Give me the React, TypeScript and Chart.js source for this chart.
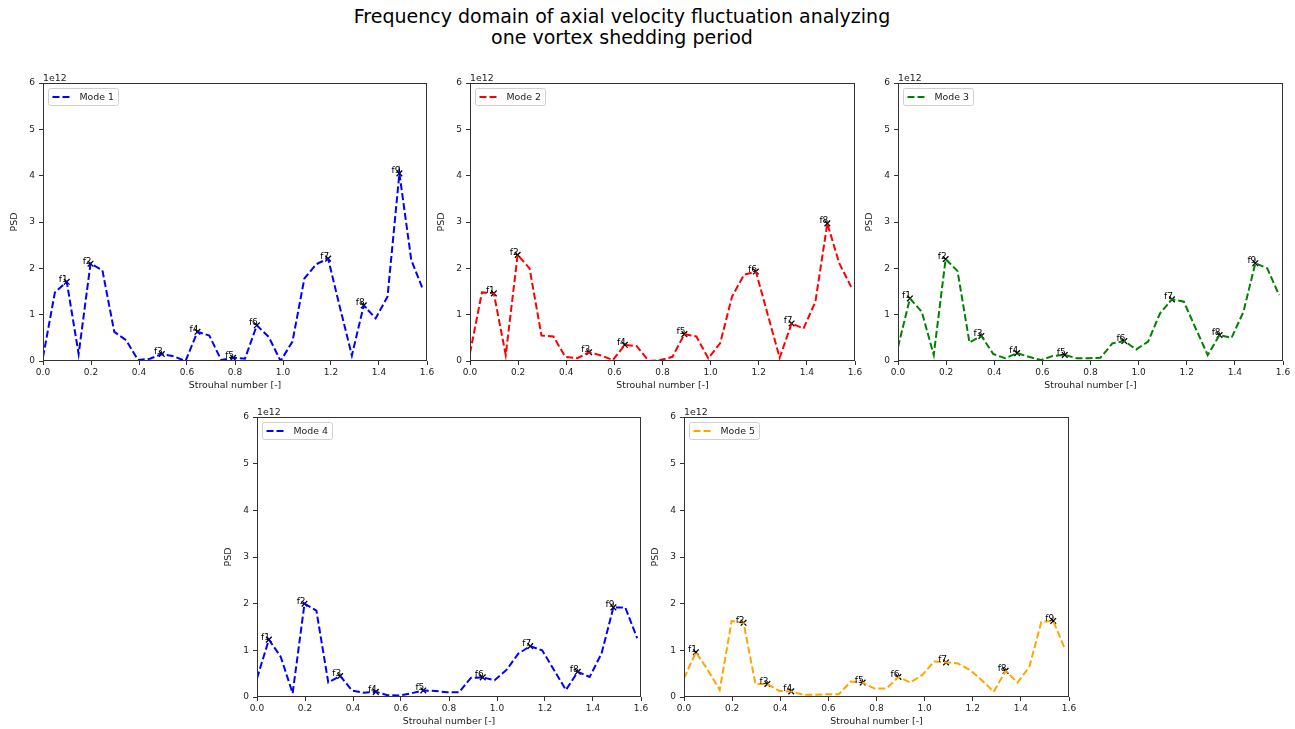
import React, { useEffect, useRef } from "react";
import { Chart, registerables } from "chart.js";

Chart.register(...registerables);

// ---------------- data ----------------
const TITLE_LINES = [
  "Frequency domain of axial velocity fluctuation analyzing",
  "one vortex shedding period",
];

const STROUHAL = [
  0, 0.0495, 0.099, 0.1485, 0.198, 0.2475, 0.297, 0.3465, 0.396, 0.4455, 0.495,
  0.5445, 0.594, 0.6435, 0.693, 0.7425, 0.792, 0.8415, 0.891, 0.9405, 0.99,
  1.0395, 1.089, 1.1385, 1.188, 1.2375, 1.287, 1.3365, 1.386, 1.4355, 1.485,
  1.5345, 1.584,
];

// PSD values in units of 1e12
const MODE_1 = [
  0.08, 1.48, 1.71, 0.15, 2.1, 1.96, 0.63, 0.45, 0.02, 0.05, 0.15, 0.1, 0.0,
  0.63, 0.55, 0.02, 0.07, 0.05, 0.77, 0.52, 0.0, 0.42, 1.78, 2.09, 2.21, 1.15,
  0.12, 1.2, 0.92, 1.39, 4.05, 2.18, 1.53,
];
const MODE_2 = [
  0.17, 1.48, 1.46, 0.13, 2.29, 2.0, 0.55, 0.53, 0.09, 0.06, 0.19, 0.12, 0.02,
  0.35, 0.32, 0.0, 0.02, 0.09, 0.58, 0.53, 0.06, 0.38, 1.39, 1.86, 1.93, 1.0,
  0.07, 0.81, 0.7, 1.28, 2.97, 2.11, 1.6,
];
const MODE_3 = [
  0.3, 1.35, 1.06, 0.13, 2.2, 1.94, 0.4, 0.54, 0.15, 0.06, 0.17, 0.09, 0.02,
  0.11, 0.13, 0.06, 0.06, 0.07, 0.38, 0.43, 0.25, 0.42, 1.03, 1.33, 1.28, 0.7,
  0.13, 0.56, 0.5, 1.06, 2.11, 2.0, 1.42,
];
const MODE_4 = [
  0.4, 1.23, 0.86, 0.08, 2.0, 1.85, 0.31, 0.45, 0.14, 0.09, 0.11, 0.04, 0.03,
  0.08, 0.14, 0.13, 0.1, 0.1, 0.41, 0.42, 0.36, 0.58, 0.93, 1.09, 1.0, 0.58,
  0.15, 0.54, 0.43, 0.93, 1.92, 1.92, 1.26,
];
const MODE_5 = [
  0.4, 0.96, 0.58, 0.15, 1.63, 1.59, 0.28, 0.28, 0.13, 0.12, 0.05, 0.05, 0.06,
  0.06, 0.33, 0.31, 0.18, 0.18, 0.43, 0.31, 0.47, 0.76, 0.74, 0.72, 0.58, 0.36,
  0.11, 0.56, 0.31, 0.65, 1.61, 1.63, 1.02,
];

// indices (into STROUHAL) of the annotated peaks f1, f2, ...
const PEAKS_1 = [2, 4, 10, 13, 16, 18, 24, 27, 30];
const PEAKS_2 = [2, 4, 10, 13, 18, 24, 27, 30];
const PEAKS_3 = [1, 4, 7, 10, 14, 19, 23, 27, 30];
const PEAKS_4 = [1, 4, 7, 10, 14, 19, 23, 27, 30];
const PEAKS_5 = [1, 5, 7, 9, 15, 18, 22, 27, 31];

const SERIES_NAMES = ["Mode 1", "Mode 2", "Mode 3", "Mode 4", "Mode 5"];
const X_LABEL = "Strouhal number [-]";
const Y_LABEL = "PSD";
const Y_OFFSET_TEXT = "1e12";
const X_MIN = 0;
const X_MAX = 1.6;
const X_STEP = 0.2;
const Y_MIN = 0;
const Y_MAX = 6;
const Y_STEP = 1;

// ---------------- layout / style ----------------
const FONT = '"DejaVu Sans", "Liberation Sans", sans-serif';
const Y_AXIS_W = 40;
const X_AXIS_H = 32;
const PAD_TOP = 25;
const PAD_RIGHT = 12;

const PANELS = [
  { values: MODE_1, peaks: PEAKS_1, name: SERIES_NAMES[0], color: "#0000ff", left: 43, top: 83, w: 384, h: 278 },
  { values: MODE_2, peaks: PEAKS_2, name: SERIES_NAMES[1], color: "#ff0000", left: 470, top: 83, w: 385, h: 278 },
  { values: MODE_3, peaks: PEAKS_3, name: SERIES_NAMES[2], color: "#008000", left: 898, top: 83, w: 385, h: 278 },
  { values: MODE_4, peaks: PEAKS_4, name: SERIES_NAMES[3], color: "#0000ff", left: 257, top: 417, w: 384, h: 280 },
  { values: MODE_5, peaks: PEAKS_5, name: SERIES_NAMES[4], color: "#ffa500", left: 684, top: 417, w: 385, h: 280 },
];

const decorPlugin = {
  id: "decor",
  afterDatasetsDraw(chart: any) {
    const { ctx, chartArea: a } = chart;
    const opts = chart.options.plugins.decor;
    ctx.save();
    // frame (all four spines)
    ctx.strokeStyle = "#333";
    ctx.lineWidth = 1;
    ctx.strokeRect(
      Math.round(a.left) + 0.5,
      Math.round(a.top) + 0.5,
      Math.round(a.right - a.left) - 1,
      Math.round(a.bottom - a.top) - 1
    );
    // peak annotations
    const meta = chart.getDatasetMeta(1);
    ctx.fillStyle = "#000";
    ctx.font = `9px ${FONT}`;
    ctx.textAlign = "right";
    ctx.textBaseline = "alphabetic";
    meta.data.forEach((pt: any, k: number) => {
      ctx.fillText("f" + (k + 1), pt.x + 1, pt.y);
    });
    // offset text
    ctx.textAlign = "left";
    ctx.font = `9.4px ${FONT}`;
    ctx.fillStyle = "#222";
    ctx.fillText(Y_OFFSET_TEXT, a.left, a.top - 2);
    // legend box
    const bx = Math.round(a.left) + 5.5;
    const by = Math.round(a.top) + 5.5;
    ctx.font = `9.4px ${FONT}`;
    const tw = ctx.measureText(opts.name).width;
    const bw = Math.round(4 + 18 + 9 + tw + 5);
    const bh = 17;
    ctx.beginPath();
    const r = 2;
    ctx.moveTo(bx + r, by);
    ctx.lineTo(bx + bw - r, by);
    ctx.quadraticCurveTo(bx + bw, by, bx + bw, by + r);
    ctx.lineTo(bx + bw, by + bh - r);
    ctx.quadraticCurveTo(bx + bw, by + bh, bx + bw - r, by + bh);
    ctx.lineTo(bx + r, by + bh);
    ctx.quadraticCurveTo(bx, by + bh, bx, by + bh - r);
    ctx.lineTo(bx, by + r);
    ctx.quadraticCurveTo(bx, by, bx + r, by);
    ctx.closePath();
    ctx.fillStyle = "rgba(255,255,255,0.8)";
    ctx.fill();
    ctx.strokeStyle = "#d0d0d0";
    ctx.lineWidth = 1;
    ctx.stroke();
    ctx.beginPath();
    ctx.setLineDash([7, 3]);
    ctx.strokeStyle = opts.color;
    ctx.lineWidth = 2;
    ctx.moveTo(bx + 4, by + bh / 2);
    ctx.lineTo(bx + 22, by + bh / 2);
    ctx.stroke();
    ctx.setLineDash([]);
    ctx.fillStyle = "#222";
    ctx.textBaseline = "middle";
    ctx.fillText(opts.name, bx + 31, by + bh / 2 + 0.5);
    ctx.restore();
  },
};

function Panel({ p }: { p: (typeof PANELS)[number] }) {
  const ref = useRef<HTMLCanvasElement | null>(null);
  const cw = p.w + Y_AXIS_W + PAD_RIGHT;
  const ch = p.h + PAD_TOP + X_AXIS_H;
  useEffect(() => {
    if (!ref.current) return;
    const lineData = STROUHAL.map((x, i) => ({ x, y: p.values[i] }));
    const peakData = p.peaks.map((i) => ({ x: STROUHAL[i], y: p.values[i] }));
    const tickFont = { family: FONT, size: 9 };
    const chart = new Chart(ref.current, {
      type: "line",
      data: {
        datasets: [
          {
            data: lineData,
            borderColor: p.color,
            borderWidth: 2,
            borderDash: [7, 3],
            pointRadius: 0,
            tension: 0,
            fill: false,
          },
          {
            data: peakData,
            showLine: false,
            pointStyle: "crossRot",
            pointRadius: 4,
            pointBorderColor: "#000",
            pointBackgroundColor: "#000",
            pointBorderWidth: 1.3,
          },
        ],
      },
      options: {
        animation: false,
        responsive: false,
        devicePixelRatio: 1,
        layout: { padding: { top: PAD_TOP, right: PAD_RIGHT, left: 0, bottom: 0 } },
        plugins: {
          legend: { display: false },
          tooltip: { enabled: false },
          decor: { name: p.name, color: p.color },
        } as any,
        scales: {
          x: {
            type: "linear",
            min: X_MIN,
            max: X_MAX,
            afterFit: (s: any) => {
              s.height = X_AXIS_H;
            },
            border: { display: false },
            grid: { display: true, drawOnChartArea: false, drawTicks: true, tickLength: 4, color: "#333" },
            ticks: {
              stepSize: X_STEP,
              autoSkip: false,
              maxRotation: 0,
              padding: 2,
              color: "#222",
              font: tickFont,
              callback: (v: any) => Number(v).toFixed(1),
            },
            title: {
              display: true,
              text: X_LABEL,
              color: "#222",
              font: { family: FONT, size: 9.4 },
              padding: { top: 0, bottom: 2 },
            },
          },
          y: {
            type: "linear",
            min: Y_MIN,
            max: Y_MAX,
            afterFit: (s: any) => {
              s.width = Y_AXIS_W;
            },
            border: { display: false },
            grid: { display: true, drawOnChartArea: false, drawTicks: true, tickLength: 4, color: "#333" },
            ticks: {
              stepSize: Y_STEP,
              padding: 4,
              color: "#222",
              font: tickFont,
              callback: (v: any) => String(Number(v)),
            },
            title: {
              display: true,
              text: Y_LABEL,
              color: "#222",
              font: { family: FONT, size: 9.4 },
              padding: { top: 6, bottom: 0 },
            },
          },
        },
      } as any,
      plugins: [decorPlugin],
    });
    return () => chart.destroy();
  }, [p]);
  return (
    <canvas
      ref={ref}
      width={cw}
      height={ch}
      style={{
        position: "absolute",
        left: p.left - Y_AXIS_W,
        top: p.top - PAD_TOP,
        width: cw,
        height: ch,
      }}
    />
  );
}

export default function App() {
  return (
    <div
      style={{
        position: "absolute",
        left: 0,
        top: 0,
        width: 1295,
        height: 729,
        background: "#fff",
        overflow: "hidden",
      }}
    >
      <div
        style={{
          position: "absolute",
          left: 0,
          width: 1244,
          top: 6,
          textAlign: "center",
          fontFamily: FONT,
          fontSize: 19,
          lineHeight: "21px",
          color: "#000",
        }}
      >
        {TITLE_LINES.map((t) => (
          <div key={t}>{t}</div>
        ))}
      </div>
      {PANELS.map((p, i) => (
        <Panel key={i} p={p} />
      ))}
    </div>
  );
}
